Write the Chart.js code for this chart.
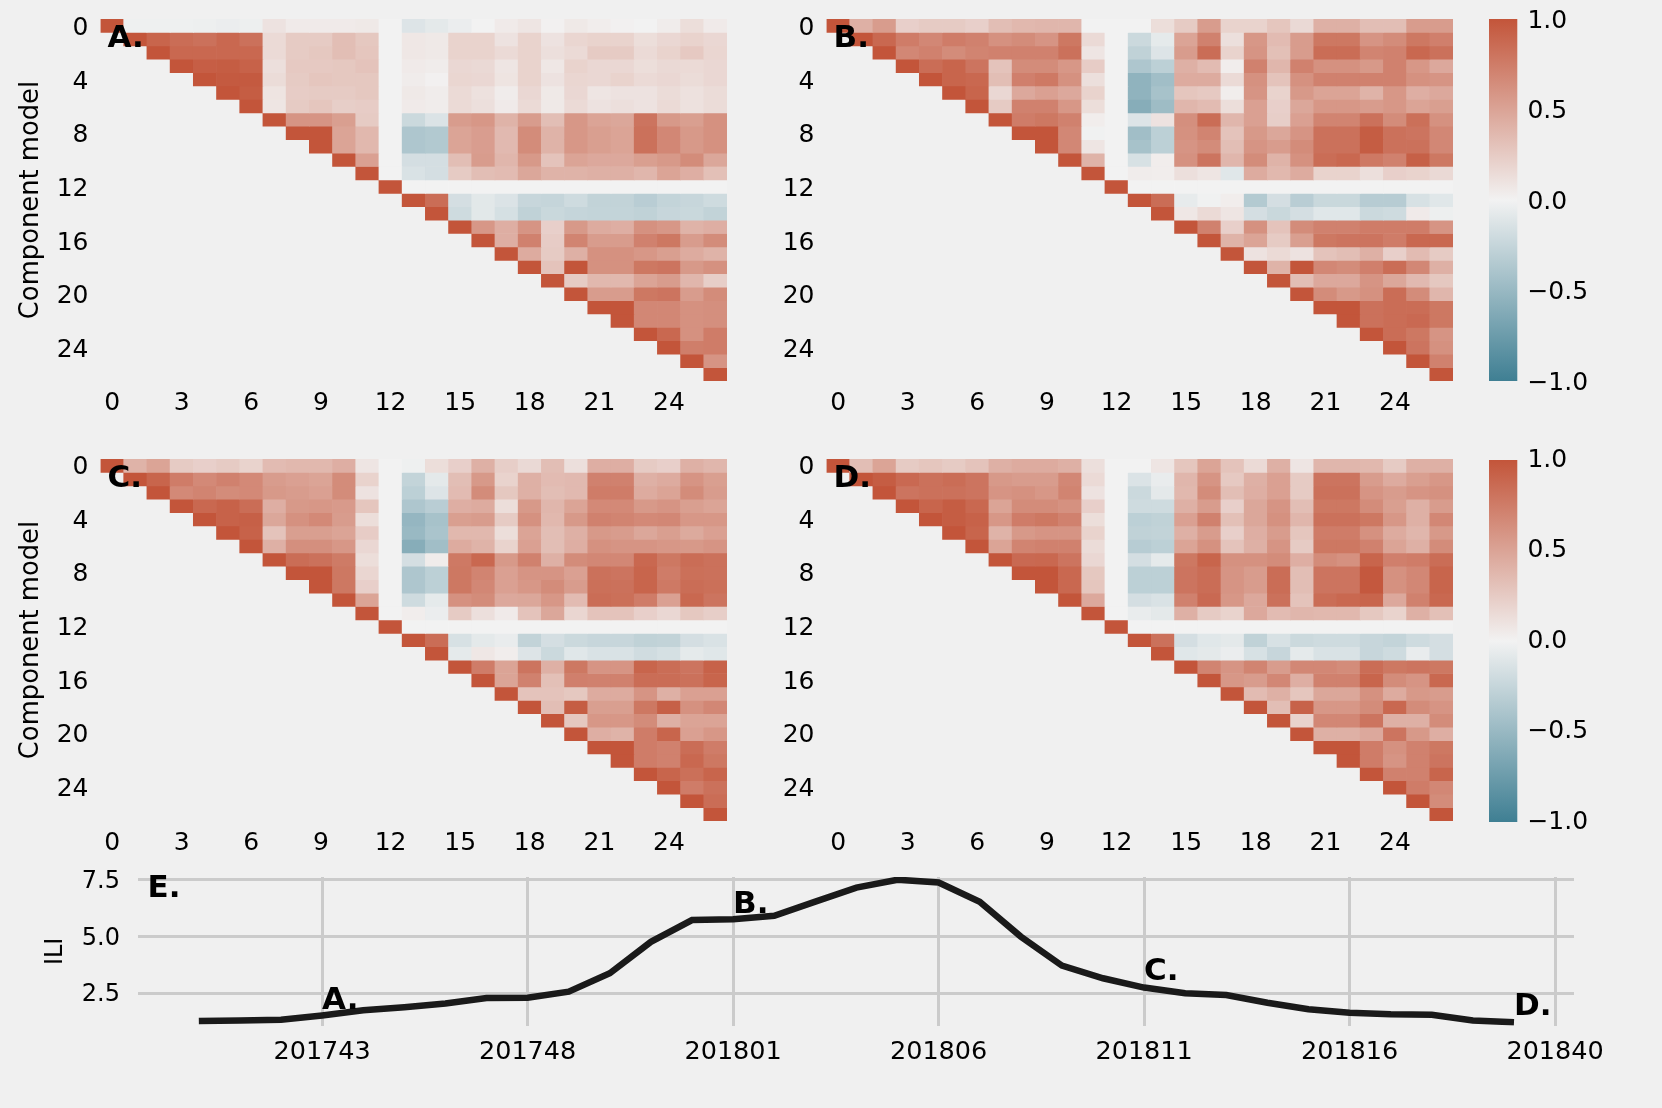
<!DOCTYPE html>
<html>
<head>
<meta charset="utf-8">
<title>Component model correlation</title>
<script src="https://cdn.jsdelivr.net/npm/chart.js@4"></script>
<style>
  html, body { margin: 0; padding: 0; background: #f0f0f0; }
  body { width: 1662px; height: 1108px; position: relative; overflow: hidden; }
  canvas { position: absolute; }
</style>
</head>
<body>
<canvas id="heatAChart"></canvas>
<canvas id="heatBChart"></canvas>
<canvas id="heatCChart"></canvas>
<canvas id="heatDChart"></canvas>
<canvas id="barTopChart"></canvas>
<canvas id="barBottomChart"></canvas>
<canvas id="iliChart"></canvas>
<script>
// Each row starts at its diagonal cell (row r, column r) and runs to column 26
const heatA = [
  [1,-.02,-.02,-.02,-.03,-.04,-.03,.1,.05,.05,.05,.06,0,-.12,-.08,-.04,0,.05,.08,.01,.06,.03,.01,0,.04,.13,.05],
  [1,.9,.85,.82,.88,.82,.15,.25,.25,.33,.27,0,.07,.06,.2,.2,.1,.2,.1,.18,.2,.2,.13,.17,.2,.17],
  [1,.88,.88,.88,.88,.15,.25,.27,.33,.28,0,.07,.06,.2,.2,.15,.2,.12,.15,.25,.25,.15,.2,.26,.18],
  [1,.94,.95,.92,.12,.26,.26,.27,.3,0,.05,.04,.17,.16,.08,.2,.07,.2,.17,.17,.13,.16,.15,.17],
  [1,.97,.97,.14,.25,.28,.27,.27,0,.04,.01,.18,.17,.09,.2,.1,.18,.17,.2,.15,.17,.14,.17],
  [1,.95,.09,.24,.25,.25,.27,0,.06,.04,.15,.11,.04,.17,.06,.17,.08,.1,.1,.14,.11,.14],
  [1,.08,.25,.28,.23,.24,0,.05,.04,.15,.12,.05,.15,.06,.15,.1,.12,.1,.15,.11,.14],
  [1,.6,.6,.53,.25,0,-.22,-.13,.55,.58,.4,.55,.33,.58,.5,.48,.8,.57,.53,.62],
  [1,1,.5,.37,0,-.38,-.36,.5,.54,.36,.65,.4,.58,.53,.5,.82,.68,.57,.62],
  [1,.5,.37,0,-.38,-.36,.5,.54,.36,.65,.4,.58,.53,.5,.82,.68,.57,.62],
  [1,.52,0,-.17,-.17,.33,.55,.38,.57,.3,.5,.47,.47,.53,.57,.65,.48],
  [1,0,-.14,-.17,.25,.33,.35,.48,.4,.4,.42,.42,.38,.5,.43,.32],
  [1,0,0,0,0,0,0,0,0,0,0,0,0,0,0],
  [1,.85,-.17,-.09,-.13,-.24,-.25,-.2,-.27,-.27,-.32,-.26,-.24,-.2],
  [1,-.2,-.09,-.16,-.28,-.23,-.25,-.26,-.26,-.28,-.24,-.23,-.27],
  [1,.58,.43,.6,.22,.57,.45,.43,.62,.58,.4,.43],
  [1,.43,.72,.24,.7,.55,.55,.72,.78,.55,.65],
  [1,.45,.25,.42,.62,.62,.58,.53,.45,.4],
  [1,.3,1,.62,.62,.78,.8,.57,.62],
  [1,.25,.37,.37,.5,.55,.38,.23],
  [1,.55,.55,.78,.8,.55,.65],
  [1,1,.68,.68,.62,.63],
  [1,.68,.68,.62,.63],
  [1,.88,.62,.75],
  [1,.74,.75],
  [1,.6],
  [1]
];
const heatB = [
  [1,.42,.55,.22,.25,.25,.22,.33,.37,.38,.38,0,0,0,.13,.25,.55,.2,.2,.28,.16,.42,.42,.33,.33,.55,.55],
  [1,.88,.75,.68,.75,.72,.62,.65,.6,.78,.15,0,-.22,-.07,.5,.72,.12,.58,.35,.55,.78,.78,.6,.65,.78,.73],
  [1,.68,.72,.65,.7,.72,.72,.72,.82,.08,0,-.28,-.12,.55,.85,.2,.6,.32,.55,.85,.85,.7,.72,.88,.82],
  [1,.85,.9,.8,.3,.65,.65,.58,.24,0,-.38,-.3,.42,.35,.03,.72,.38,.72,.62,.62,.57,.72,.58,.47],
  [1,.9,.88,.33,.73,.77,.62,.12,0,-.55,-.45,.45,.45,.15,.62,.3,.62,.72,.72,.72,.72,.62,.6],
  [1,.9,.17,.47,.52,.47,.2,0,-.55,-.42,.28,.26,.03,.6,.2,.57,.5,.5,.4,.58,.43,.47],
  [1,.25,.72,.72,.58,.13,0,-.6,-.47,.38,.35,.13,.52,.22,.48,.58,.58,.55,.58,.5,.53],
  [1,.75,.78,.72,.03,0,-.12,.1,.63,.85,.38,.52,.23,.52,.7,.7,.82,.65,.83,.62],
  [1,1,.68,-.01,0,-.45,-.3,.62,.7,.3,.57,.48,.6,.82,.82,.95,.82,.8,.68],
  [1,.68,.08,0,-.42,-.3,.6,.65,.33,.6,.55,.65,.82,.82,.95,.82,.82,.68],
  [1,.4,0,-.15,.03,.62,.8,.38,.65,.4,.62,.85,.88,.77,.72,.93,.78],
  [1,0,.04,.03,.12,.08,-.1,.45,.37,.45,.2,.2,.12,.22,.2,.16],
  [1,0,0,0,0,0,0,0,0,0,0,0,0,0,0],
  [1,.85,-.06,-.01,.03,-.35,-.17,-.32,-.23,-.23,-.33,-.33,-.15,-.1],
  [1,.07,.15,.08,-.17,-.23,-.17,-.1,-.1,-.22,-.2,.05,-.03],
  [1,.72,.22,.62,.3,.65,.72,.72,.75,.75,.75,.6],
  [1,.4,.5,.25,.53,.78,.8,.8,.75,.88,.88],
  [1,.1,.15,.1,.3,.33,.42,.22,.35,.25],
  [1,.4,1,.68,.65,.73,.85,.68,.42],
  [1,.33,.47,.47,.6,.48,.36,.27],
  [1,.65,.57,.62,.85,.65,.38],
  [1,1,.82,.85,.85,.78],
  [1,.82,.85,.87,.78],
  [1,.85,.78,.6],
  [1,.8,.62],
  [1,.72],
  [1]
];
const heatC = [
  [1,.4,.5,.25,.22,.25,.2,.35,.37,.37,.43,.08,0,-.02,.13,.22,.42,.23,.16,.33,.12,.43,.43,.25,.22,.42,.38],
  [1,.9,.75,.67,.72,.67,.55,.52,.5,.65,.2,0,-.26,-.08,.33,.57,.2,.42,.35,.36,.72,.72,.42,.45,.6,.53],
  [1,.67,.7,.65,.67,.57,.55,.52,.65,.1,0,-.3,-.12,.35,.65,.27,.42,.33,.36,.75,.75,.45,.5,.65,.55],
  [1,.88,.92,.85,.43,.57,.58,.56,.28,0,-.38,-.32,.43,.45,.13,.57,.38,.5,.67,.67,.57,.6,.53,.5],
  [1,.92,.93,.48,.62,.67,.55,.13,0,-.52,-.42,.53,.55,.25,.62,.37,.57,.72,.7,.67,.68,.58,.58],
  [1,.92,.3,.53,.53,.5,.24,0,-.5,-.4,.37,.37,.13,.5,.33,.42,.57,.55,.48,.53,.46,.52],
  [1,.42,.63,.63,.58,.17,0,-.6,-.45,.45,.4,.2,.52,.33,.43,.62,.6,.6,.58,.57,.6],
  [1,.85,.82,.76,.13,0,-.17,.04,.77,.88,.57,.72,.42,.65,.68,.68,.88,.78,.85,.82],
  [1,1,.78,.18,0,-.38,-.3,.78,.7,.52,.6,.6,.52,.82,.8,.9,.75,.83,.82],
  [1,.78,.22,0,-.38,-.3,.78,.68,.52,.58,.65,.55,.83,.82,.9,.77,.85,.83],
  [1,.5,0,-.2,-.07,.62,.65,.47,.48,.58,.35,.85,.83,.75,.52,.88,.8],
  [1,0,.03,-.04,.25,.12,.05,.3,.48,.18,.3,.3,.22,.17,.27,.23],
  [1,0,0,0,0,0,0,0,0,0,0,0,0,0,0],
  [1,.85,-.15,-.08,-.05,-.27,-.17,-.22,-.24,-.24,-.28,-.27,-.17,-.14],
  [1,-.07,.07,.03,-.12,-.22,-.1,-.14,-.14,-.19,-.16,-.07,-.1],
  [1,.75,.5,.8,.42,.78,.6,.6,.9,.85,.8,.92],
  [1,.5,.72,.32,.73,.72,.72,.85,.85,.82,.9],
  [1,.3,.3,.27,.45,.45,.6,.42,.52,.52],
  [1,.33,.95,.53,.53,.78,.93,.62,.68],
  [1,.27,.58,.58,.65,.42,.5,.5],
  [1,.43,.4,.75,.9,.52,.58],
  [1,1,.75,.72,.85,.75],
  [1,.75,.72,.88,.78],
  [1,.9,.83,.9],
  [1,.75,.82],
  [1,.85],
  [1]
];
const heatD = [
  [1,.33,.5,.25,.28,.25,.3,.42,.45,.45,.42,.12,0,0,.08,.28,.5,.3,.15,.42,.08,.38,.38,.37,.25,.42,.42],
  [1,.95,.87,.82,.85,.8,.57,.55,.55,.68,.15,0,-.13,-.05,.38,.6,.26,.42,.52,.25,.8,.8,.55,.45,.53,.58],
  [1,.8,.82,.82,.8,.6,.62,.58,.7,.1,0,-.22,-.08,.37,.65,.33,.43,.52,.25,.82,.82,.6,.55,.6,.62],
  [1,.9,.95,.88,.5,.65,.65,.62,.22,0,-.2,-.2,.42,.55,.22,.48,.6,.33,.78,.78,.65,.53,.42,.55],
  [1,.95,.92,.58,.75,.78,.72,.13,0,-.3,-.28,.52,.72,.32,.48,.62,.38,.82,.82,.78,.58,.42,.68],
  [1,.9,.4,.57,.6,.6,.2,0,-.28,-.27,.42,.55,.22,.43,.55,.28,.75,.75,.62,.45,.38,.57],
  [1,.5,.7,.72,.72,.14,0,-.33,-.3,.5,.62,.3,.42,.6,.25,.78,.78,.72,.5,.42,.65],
  [1,.87,.88,.8,.17,0,-.17,-.07,.78,.9,.62,.62,.65,.43,.65,.62,.9,.73,.75,.85],
  [1,1,.88,.27,0,-.3,-.3,.8,.85,.6,.55,.85,.33,.8,.8,.98,.62,.68,.9],
  [1,.88,.28,0,-.3,-.3,.8,.85,.6,.55,.85,.33,.8,.8,.98,.62,.68,.9],
  [1,.47,0,-.17,-.14,.72,.87,.58,.47,.82,.3,.85,.88,.9,.47,.72,.88],
  [1,0,-.05,-.08,.42,.25,.2,.47,.35,.38,.37,.37,.27,.2,.42,.32],
  [1,0,0,0,0,0,0,0,0,0,0,0,0,0,0],
  [1,.82,-.17,-.1,-.08,-.28,-.15,-.22,-.2,-.2,-.24,-.26,-.2,-.17],
  [1,-.1,-.08,-.04,-.15,-.24,-.07,-.14,-.14,-.24,-.2,-.05,-.17],
  [1,.7,.6,.7,.55,.68,.68,.65,.85,.78,.8,.78],
  [1,.58,.55,.68,.43,.72,.72,.9,.65,.6,.88],
  [1,.35,.42,.28,.48,.48,.62,.45,.57,.55],
  [1,.33,.92,.58,.58,.65,.88,.65,.6],
  [1,.2,.68,.68,.8,.42,.42,.65],
  [1,.42,.42,.47,.8,.57,.43],
  [1,1,.75,.62,.72,.78],
  [1,.75,.6,.72,.8],
  [1,.72,.72,.9],
  [1,.75,.68],
  [1,.65],
  [1]
];

const models = ["0","1","2","3","4","5","6","7","8","9","10","11","12","13","14","15","16","17","18","19","20","21","22","23","24","25","26"];
const barTicks = [-1, -0.5, 0, 0.5, 1];

// ILI per week, first point is week 201740
const iliValues = [1.26,1.29,1.32,1.51,1.74,1.87,2.04,2.28,2.29,2.56,3.37,4.76,5.72,5.76,5.91,6.53,7.15,7.5,7.38,6.53,4.99,3.71,3.15,2.74,2.49,2.41,2.07,1.78,1.63,1.56,1.54,1.29,1.21];
const weekTickPos = [3, 8, 13, 18, 23, 28, 33];
const weekTickLabels = ["201743","201748","201801","201806","201811","201816","201840"];
const iliTicks = [2.5, 5, 7.5];

// Letters on the ILI curve: which heatmap each week belongs to
const noteLetters = ["A.","B.","C.","D.","E."];
const noteWeek = [3, 13, 23, 32, -1.25];
const noteIli = [1.81, 6.04, 3.07, 1.51, 6.72];

const colNeg = [63, 127, 147], colMid = [242, 242, 242], colPos = [195, 85, 58];
const rgb = c => "rgb(" + c.map(Math.round).join(",") + ")";
function cellColor(v) {
  const end = v < 0 ? colNeg : colPos;
  const t = Math.abs(v);
  return rgb(colMid.map((m, i) => m + (end[i] - m) * t));
}

Chart.defaults.font.family = "'DejaVu Sans'";
Chart.defaults.color = "#000";
Chart.defaults.animation = false;
Chart.defaults.responsive = false;
Chart.defaults.plugins.legend.display = false;
Chart.defaults.plugins.tooltip.enabled = false;

// forces a scale to a fixed size so the plot area lands where we want it
const fixSize = (key, size) => scale => {
  scale[key] = size;
  scale.paddingLeft = scale.paddingRight = scale.paddingTop = scale.paddingBottom = 0;
};

function place(id, left, top, w, h) {
  const c = document.getElementById(id);
  c.width = w; c.height = h;
  c.style.left = left + "px";
  c.style.top = top + "px";
  return c;
}

const letterFont = "bold 31px 'DejaVu Sans'";

function heatPanel(id, rows, letter, plotLeft, plotTop, yTitle, tickShift) {
  const plotW = 626.5, plotH = 362, padL = 100.5, padT = 18, padR = 20, padB = 44;
  const canvas = place(id, plotLeft - padL, plotTop - padT, padL + plotW + padR, padT + plotH + padB);
  const datasets = rows.map((vals, r) => {
    const data = models.map(() => null);
    const colors = models.map(() => "rgba(0,0,0,0)");
    vals.forEach((v, i) => {
      data[r + i] = [r - 0.5, r + 0.5];
      colors[r + i] = cellColor(v);
    });
    return { data, backgroundColor: colors, grouped: false, barPercentage: 1, categoryPercentage: 1, borderWidth: 0 };
  });
  new Chart(canvas, {
    type: "bar",
    data: { labels: models, datasets },
    options: {
      layout: { padding: { top: padT, right: padR } },
      scales: {
        x: {
          type: "category",
          offset: true,
          grid: { display: false },
          border: { display: false },
          afterFit: fixSize("height", padB),
          ticks: {
            font: { size: 25 },
            padding: -1,
            autoSkip: false,
            maxRotation: 0,
            callback: v => v % 3 === 0 ? models[v] : ""
          }
        },
        y: {
          type: "linear",
          reverse: true,
          min: -0.5,
          max: 26.5,
          grid: { display: false },
          border: { display: false },
          afterFit: fixSize("width", padL),
          afterBuildTicks: s => { s.ticks = models.map(Number).filter(m => m % 4 === 0).map(value => ({ value })); },
          ticks: { font: { size: 25 }, padding: 4, labelOffset: tickShift },
          title: { display: yTitle, text: "Component model", font: { size: 25.8 }, padding: { top: 16, bottom: 0 } }
        }
      }
    },
    plugins: [{
      id: "panelLetter",
      afterDraw(chart) {
        const ctx = chart.ctx;
        ctx.save();
        ctx.font = letterFont;
        ctx.fillStyle = "#000";
        ctx.fillText(letter, chart.chartArea.left + 7, chart.chartArea.top + 28);
        ctx.restore();
      }
    }]
  });
}

function colorBar(id, plotTop, tickShift) {
  const plotH = 362, padT = 18, padB = 18, plotW = 28.4;
  const canvas = place(id, 1489, plotTop - padT, 150, padT + plotH + padB);
  new Chart(canvas, {
    type: "bar",
    data: {
      labels: ["cbar"],
      datasets: [{
        data: [[barTicks[0], barTicks[barTicks.length - 1]]],
        barPercentage: 1,
        categoryPercentage: 1,
        borderWidth: 0,
        backgroundColor(ctx) {
          const a = ctx.chart.chartArea;
          if (!a) return rgb(colMid);
          const g = ctx.chart.ctx.createLinearGradient(0, a.bottom, 0, a.top);
          g.addColorStop(0, rgb(colNeg));
          g.addColorStop(0.5, rgb(colMid));
          g.addColorStop(1, rgb(colPos));
          return g;
        }
      }]
    },
    options: {
      layout: { padding: { top: padT, bottom: padB, right: 150 - plotW - 121.6 } },
      scales: {
        x: { display: false, offset: true },
        y: {
          position: "right",
          min: -1,
          max: 1,
          grid: { display: false },
          border: { display: false },
          afterFit: fixSize("width", 121.6),
          afterBuildTicks: s => { s.ticks = barTicks.map(value => ({ value })); },
          ticks: {
            font: { size: 25 },
            padding: 2,
            labelOffset: tickShift,
            callback: v => (v < 0 ? "\u2212" : "") + Math.abs(v).toFixed(1)
          }
        }
      }
    }
  });
}

heatPanel("heatAChart", heatA, "A.", 100.5, 19, true, 3);
heatPanel("heatBChart", heatB, "B.", 826.5, 19, false, 3);
heatPanel("heatCChart", heatC, "C.", 100.5, 459, true, 2);
heatPanel("heatDChart", heatD, "D.", 826.5, 459, false, 2);
colorBar("barTopChart", 19, 2);
colorBar("barBottomChart", 459.5, 0);

// ILI curve
const gridLine = { color: "#cbcbcb", lineWidth: 3, drawTicks: false };
new Chart(place("iliChart", 0, 860, 1662, 240), {
  type: "line",
  data: {
    datasets: [{
      data: iliValues.map((y, x) => ({ x, y })),
      borderColor: "#1a1a1a",
      borderWidth: 6.5,
      pointRadius: 0,
      tension: 0,
      fill: false
    }]
  },
  options: {
    layout: { padding: { top: 17, right: 88 } },
    scales: {
      x: {
        type: "linear",
        min: -1.48,
        max: 33.46,
        grid: gridLine,
        border: { display: false },
        afterFit: fixSize("height", 74.3),
        afterBuildTicks: s => { s.ticks = weekTickPos.map(value => ({ value })); },
        ticks: {
          font: { size: 25.5 },
          padding: 11,
          maxRotation: 0,
          autoSkip: false,
          callback: v => weekTickLabels[weekTickPos.indexOf(v)]
        }
      },
      y: {
        min: 1.057,
        max: 7.62,
        grid: gridLine,
        border: { display: false },
        afterFit: fixSize("width", 138),
        afterBuildTicks: s => { s.ticks = iliTicks.map(value => ({ value })); },
        ticks: { font: { size: 24 }, padding: 18, labelOffset: 2, callback: v => v.toFixed(1) },
        title: { display: true, text: "ILI", font: { size: 24 }, padding: { top: 41, bottom: 0 } }
      }
    }
  },
  plugins: [{
    id: "weekNotes",
    afterDraw(chart) {
      const ctx = chart.ctx;
      ctx.save();
      ctx.font = letterFont;
      ctx.fillStyle = "#000";
      noteLetters.forEach((t, i) => {
        ctx.fillText(t, chart.scales.x.getPixelForValue(noteWeek[i]), chart.scales.y.getPixelForValue(noteIli[i]));
      });
      ctx.restore();
    }
  }]
});
</script>
</body>
</html>
